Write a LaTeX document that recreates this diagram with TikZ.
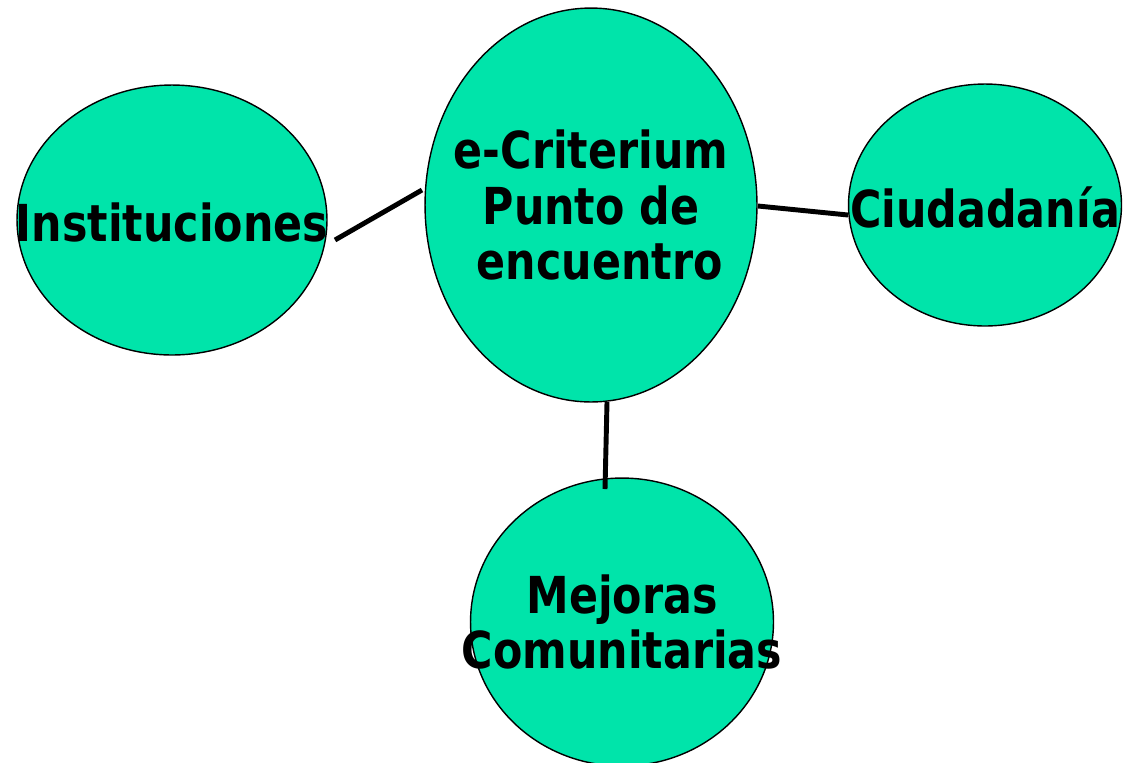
\documentclass[tikz,border=0pt]{standalone}
\usepackage{fontspec}
\newfontfamily\lbl[FakeStretch=0.84]{DejaVu Sans Bold}
\usetikzlibrary{shapes.geometric}
\definecolor{bubble}{RGB}{0,228,170}
\begin{document}
\begin{tikzpicture}[x=0.02cm,y=-0.02cm,
  bub/.style={ellipse,draw=black,line width=0.8pt,fill=bubble,inner sep=0pt},
  conn/.style={line width=2.8pt,black},
  txt/.style={font=\lbl\fontsize{29}{31.5}\selectfont,align=center,inner sep=0pt,text=black}]
\useasboundingbox (0,0) rectangle (1124,762);
\clip (0,0) rectangle (1124,762);
\node[bub,minimum width=6.2cm,minimum height=5.4cm] (inst) at (172,220) {};
\node[bub,minimum width=6.64cm,minimum height=7.88cm] (crit) at (591,205) {};
\node[bub,minimum width=5.46cm,minimum height=4.84cm] (ciud) at (985,205) {};
\node[bub,minimum width=6.06cm,minimum height=5.76cm] (mej) at (622,622) {};
\coordinate (i1) at (335,240);
\coordinate (c1) at (422,190);
\coordinate (c2) at (758,206);
\coordinate (d1) at (848,215);
\coordinate (c3) at (607,402);
\coordinate (m1) at (605,489);
\draw[conn] (i1) -- (c1);
\draw[conn] (c2) -- (d1);
\draw[conn] (c3) -- (m1);
\node[txt] (tinst) at (172,222) {Instituciones};
\node[txt] (tcrit) at (591,205) {e-Criterium\\Punto de\\\hspace*{10pt}encuentro};
\node[txt] (tciud) at (985,207) {Ciudadanía};
\node[txt] (tmej) at (622,622) {Mejoras\\Comunitarias};
\end{tikzpicture}
\end{document}
